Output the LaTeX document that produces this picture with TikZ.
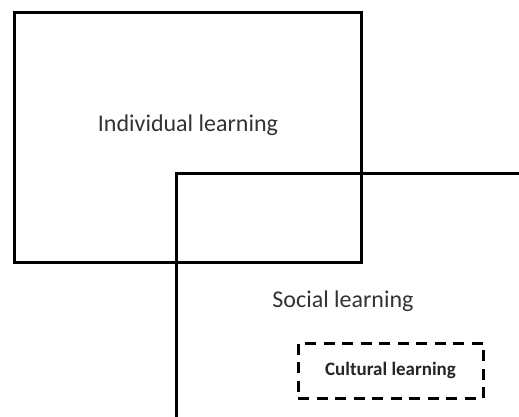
\documentclass[tikz,border=0pt]{standalone}
\usepackage{fontspec}
\setmainfont{Carlito}
\usetikzlibrary{positioning}

\begin{document}
\begin{tikzpicture}[
            x=1pt, y=-1pt,
            areabox/.style={rectangle, draw, line width=3pt, inner sep=0pt},
            subbox/.style={rectangle, draw, line width=3pt, dash pattern=on 11pt off 7.5pt, inner sep=0pt},
            areatext/.style={font=\fontsize{24}{28}\selectfont, text=black!80},
        ]
            \useasboundingbox (0,0) rectangle (519,417);
            \clip (0,0) rectangle (519,417);
            % the two overlapping areas
            \node[areabox, minimum width=347pt, minimum height=249pt] (individual) at (187.5,137.5) {};
            \node[areabox, minimum width=370pt, minimum height=270pt] (social) at (361,308) {};
            \node[subbox, minimum width=185pt, minimum height=55pt] (cultural) at (390.5,370.5) {};
            % labels
            \node[areatext] (individualtext) at (188,125) {Individual learning};
            \node[areatext] (socialtext) at (343,301) {Social learning};
            \node[font=\fontsize{19}{22}\selectfont\bfseries, text=black!85] (culturaltext) at (cultural) {Cultural learning};
        \end{tikzpicture}
\end{document}
